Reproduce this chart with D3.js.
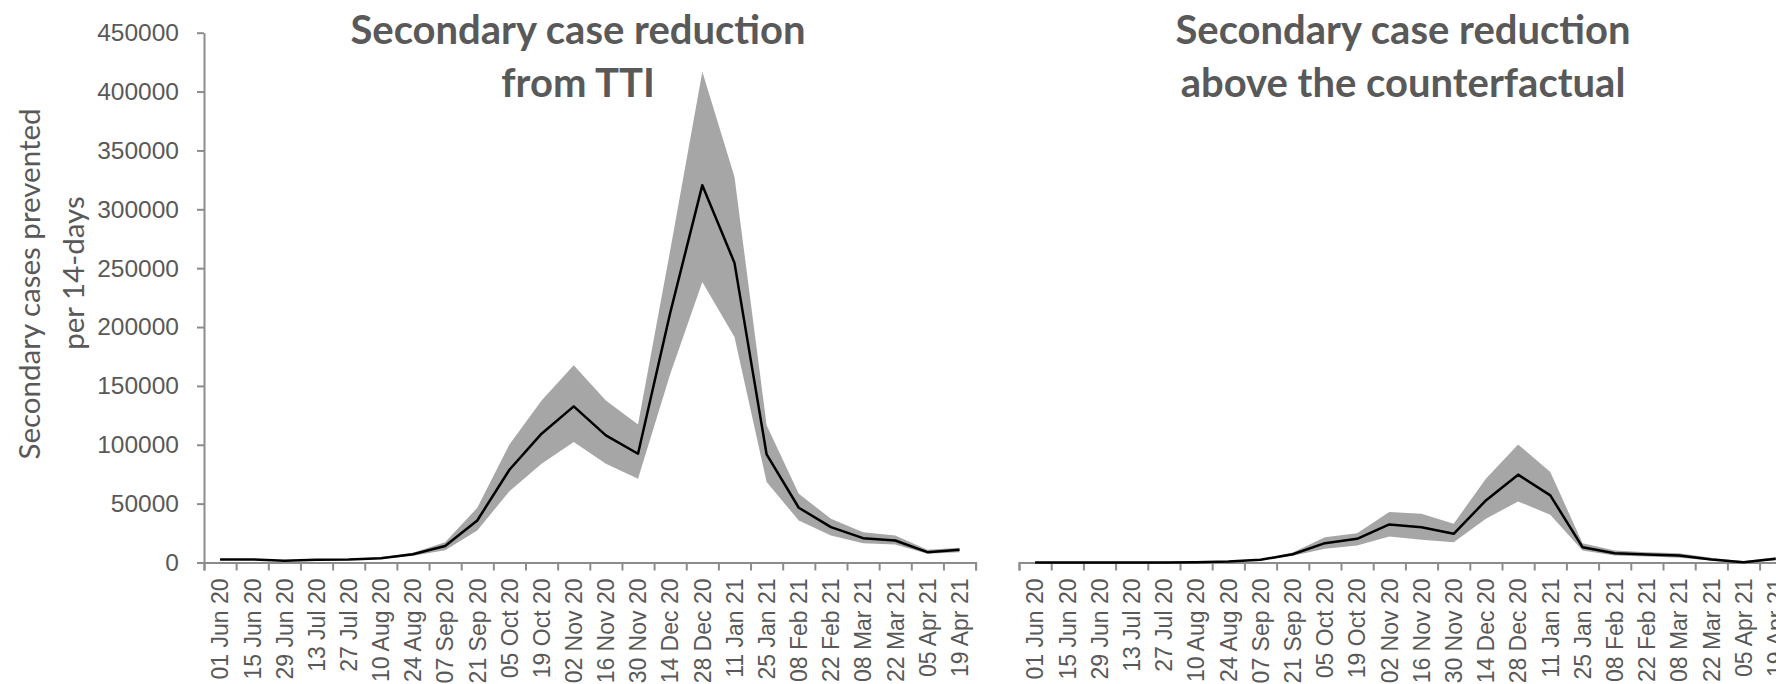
<!DOCTYPE html>
<html>
<head>
<meta charset="utf-8">
<script src="https://cdn.jsdelivr.net/npm/d3@7"></script>
<style>
  body { margin: 0; background: #fff; }
  svg { display: block; font-family: Lato, "Open Sans", sans-serif; }
</style>
</head>
<body>
<svg id="chart" width="1776" height="684"></svg>
<script>
// fortnight start dates
var dates = ["01 Jun 20", "15 Jun 20", "29 Jun 20", "13 Jul 20", "27 Jul 20", "10 Aug 20",
  "24 Aug 20", "07 Sep 20", "21 Sep 20", "05 Oct 20", "19 Oct 20", "02 Nov 20",
  "16 Nov 20", "30 Nov 20", "14 Dec 20", "28 Dec 20", "11 Jan 21", "25 Jan 21",
  "08 Feb 21", "22 Feb 21", "08 Mar 21", "22 Mar 21", "05 Apr 21", "19 Apr 21"];

// left panel: reduction from TTI
var ttiMean = [2600, 2600, 1400, 2300, 2600, 3700, 7000, 14000, 35700, 78800, 109400, 132600,
  108000, 92400, 212000, 320500, 254500, 91800, 46500, 30000, 20700, 18700, 8800, 10800];
var ttiLow = [2200, 2200, 1000, 1900, 2200, 3000, 5800, 10500, 27200, 60600, 83900, 102300,
  83900, 71200, 160000, 238300, 191600, 68300, 35700, 23000, 16400, 15300, 7400, 8800];
var ttiHigh = [3000, 3000, 1800, 2700, 3000, 4400, 8300, 17300, 46500, 100300, 137700, 167500,
  137700, 117300, 265000, 416900, 327600, 116500, 58400, 37100, 25800, 23000, 10800, 12500];

// right panel: reduction above the counterfactual
var cfMean = [0, 0, 0, 0, 0, 300, 900, 2300, 7000, 16400, 20100, 32300,
  30000, 24400, 52700, 74600, 57000, 13000, 7900, 6800, 6000, 2550, 300, 3100];
var cfLow = [0, 0, 0, 0, 0, 100, 600, 1700, 5800, 11600, 14500, 22100,
  19300, 17300, 37100, 51900, 40500, 10200, 6000, 5100, 4000, 1700, 0, 1700];
var cfHigh = [200, 200, 200, 200, 200, 600, 1300, 3000, 8500, 21500, 24900, 42800,
  41400, 32900, 71200, 100300, 76800, 16400, 10200, 8800, 7900, 4000, 1000, 4500];

var yTicks = [0, 50000, 100000, 150000, 200000, 250000, 300000, 350000, 400000, 450000];

var textColor = "#595959",
  axisColor = "#8c8c8c",
  bandColor = "#a6a6a6";

var svg = d3.select("#chart");

var y = d3.scaleLinear().domain([0, 450000]).range([562.5, 32.7]);

function panel(x0, x1, mean, low, high, title, showY) {
  var x = d3.scaleBand().domain(dates).range([x0, x1]);
  var xi = d3.scaleLinear().domain([0, dates.length]).range([x0, x1]);
  var cx = function (d, i) { return x(dates[i]) + x.bandwidth() / 2; };

  // shaded interval
  svg.append("path")
    .datum(mean)
    .attr("fill", bandColor)
    .attr("d", d3.area()
      .x(cx)
      .y0(function (d, i) { return y(low[i]); })
      .y1(function (d, i) { return y(high[i]); }));

  // x axis: boundary ticks
  var gx = svg.append("g")
    .attr("transform", "translate(0," + y(0) + ")")
    .call(d3.axisBottom(xi).ticks(dates.length).tickFormat("").tickSize(8).tickSizeOuter(8));
  gx.selectAll("line, path").attr("stroke", axisColor).attr("stroke-width", 2);

  // central line
  svg.append("path")
    .datum(mean)
    .attr("fill", "none")
    .attr("stroke", "#000")
    .attr("stroke-width", 2.5)
    .attr("stroke-linejoin", "round")
    .attr("d", d3.line().x(cx).y(function (d) { return y(d); }));

  // x labels
  var gl = svg.append("g")
    .attr("transform", "translate(0," + y(0) + ")")
    .call(d3.axisBottom(x).tickSize(0));
  gl.select(".domain").remove();
  gl.selectAll("text")
    .attr("transform", "rotate(-90)")
    .attr("x", -16)
    .attr("y", 0)
    .attr("dy", "0.36em")
    .attr("text-anchor", "end")
    .attr("fill", textColor)
    .style("font-size", "23px");

  if (showY) {
    var gy = svg.append("g")
      .attr("transform", "translate(" + x0 + ",0)")
      .call(d3.axisLeft(y).tickValues(yTicks).tickFormat(d3.format("d"))
        .tickSize(7).tickSizeOuter(0).tickPadding(18));
    gy.selectAll("line, path").attr("stroke", axisColor).attr("stroke-width", 2);
    gy.selectAll("text").attr("fill", textColor).style("font-size", "24.5px");
  }

  // title
  svg.append("text")
    .attr("x", title.cx)
    .attr("y", 44)
    .attr("text-anchor", "middle")
    .attr("fill", textColor)
    .style("font-size", "40px")
    .style("font-weight", "bold")
    .text(title.lines[0]);
  svg.append("text")
    .attr("x", title.cx)
    .attr("y", 97)
    .attr("text-anchor", "middle")
    .attr("fill", textColor)
    .style("font-size", "40px")
    .style("font-weight", "bold")
    .text(title.lines[1]);
}

panel(204, 975.6, ttiMean, ttiLow, ttiHigh,
  { cx: 578, lines: ["Secondary case reduction", "from TTI"] }, true);
panel(1019, 1791.8, cfMean, cfLow, cfHigh,
  { cx: 1403, lines: ["Secondary case reduction", "above the counterfactual"] }, false);

// Y axis label
svg.append("text")
  .attr("transform", "translate(40,284) rotate(-90)")
  .attr("text-anchor", "middle")
  .attr("fill", textColor)
  .style("font-size", "29.5px")
  .text("Secondary  cases prevented");
svg.append("text")
  .attr("transform", "translate(84,273) rotate(-90)")
  .attr("text-anchor", "middle")
  .attr("fill", textColor)
  .style("font-size", "29.5px")
  .text("per 14-days");
</script>
</body>
</html>
